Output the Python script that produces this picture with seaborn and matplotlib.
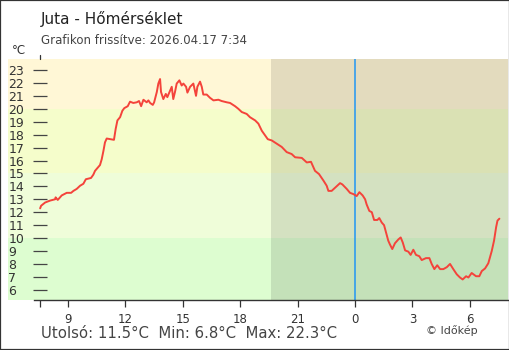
import matplotlib
matplotlib.use("Agg")
import matplotlib.pyplot as plt
from matplotlib.lines import Line2D
from matplotlib.patches import Rectangle
import seaborn as sns
import pandas as pd

# ---- data ----
hours = [7.54, 7.59, 7.80, 8.06, 8.32, 8.35, 8.46, 8.67, 8.93, 9.16, 9.28, 9.45, 9.63, 9.80, 9.93,
         10.20, 10.32, 10.41, 10.58, 10.67, 10.76, 10.85, 10.93, 11.02, 11.20, 11.40, 11.49, 11.58,
         11.72, 11.84, 11.94, 12.12, 12.24, 12.41, 12.59, 12.71, 12.82, 12.94, 13.11, 13.20, 13.29,
         13.43, 13.50, 13.64, 13.72, 13.81, 13.86, 13.98, 14.11, 14.19, 14.33, 14.42, 14.50, 14.59,
         14.68, 14.82, 14.94, 15.03, 15.17, 15.24, 15.38, 15.55, 15.69, 15.76, 15.90, 15.99, 16.07,
         16.25, 16.42, 16.60, 16.86, 17.03, 17.30, 17.47, 17.73, 17.90, 18.08, 18.34, 18.51, 18.78,
         18.95, 19.13, 19.30, 19.44, 19.65, 19.91, 20.17, 20.43, 20.69, 20.87, 21.22, 21.48, 21.70,
         21.91, 22.12, 22.35, 22.52, 22.61, 22.78, 22.96, 23.22, 23.34, 23.57, 23.74, 23.92, 24.09,
         24.23, 24.40, 24.53, 24.61, 24.75, 24.88, 25.00, 25.17, 25.27, 25.40, 25.52, 25.62, 25.74,
         25.83, 25.95, 26.09, 26.27, 26.39, 26.50, 26.62, 26.79, 26.91, 27.05, 27.19, 27.36, 27.49,
         27.71, 27.89, 28.01, 28.15, 28.30, 28.45, 28.62, 28.80, 28.97, 29.14, 29.32, 29.49, 29.63,
         29.81, 29.93, 30.10, 30.33, 30.50, 30.63, 30.80, 30.97, 31.15, 31.27, 31.38, 31.45, 31.55]
temps = [12.3, 12.5, 12.75, 12.9, 13.0, 13.15, 12.95, 13.3, 13.5, 13.5, 13.65, 13.8, 14.05, 14.2, 14.55,
         14.65, 14.9, 15.2, 15.5, 15.65, 16.1, 16.75, 17.4, 17.7, 17.65, 17.6, 18.45, 19.1,
         19.35, 19.85, 20.05, 20.2, 20.55, 20.45, 20.5, 20.6, 20.2, 20.7, 20.5, 20.65, 20.45,
         20.3, 20.5, 21.3, 21.95, 22.3, 21.3, 20.75, 21.15, 20.9, 21.4, 21.7, 20.75, 21.3,
         21.95, 22.2, 21.8, 21.95, 21.7, 21.25, 21.7, 21.95, 21.0, 21.7, 22.1, 21.7, 21.1,
         21.1, 20.85, 20.65, 20.7, 20.6, 20.5, 20.45, 20.2, 20.0, 19.75, 19.6, 19.35, 19.1,
         18.85, 18.3, 17.95, 17.65, 17.55, 17.3, 17.05, 16.65, 16.5, 16.25, 16.2, 15.85, 15.9,
         15.2, 14.95, 14.45, 14.05, 13.65, 13.65, 13.9, 14.25, 14.15, 13.8, 13.5, 13.4, 13.25,
         13.55, 13.3, 13.0, 12.6, 12.1, 12.0, 11.4, 11.4, 11.55, 11.2, 11.0, 10.45, 9.8,
         9.5, 9.15, 9.6, 9.9, 10.05, 9.65, 9.05, 8.95, 8.7, 9.1, 8.7, 8.6, 8.3,
         8.45, 8.45, 8.0, 7.6, 7.9, 7.6, 7.6, 7.75, 8.0, 7.6, 7.2, 6.95, 6.8,
         7.05, 6.95, 7.3, 7.05, 7.05, 7.45, 7.65, 8.05, 9.0, 9.8, 10.85, 11.35, 11.5]

y_ticks = list(range(6, 24))
x_ticks = [7.54, 9, 12, 15, 18, 21, 24, 27, 30]
x_tick_labels = ["", "9", "12", "15", "18", "21", "0", "3", "6"]
band_edges = [5.25, 10, 15, 20, 23.85]
band_colors = ["#DDFDD0", "#EFFDD9", "#F5FDCB", "#FFF7D6"]
sunset = 19.61
midnight = 24
title = "Juta - Hőmérséklet"
subtitle = "Grafikon frissítve: 2026.04.17 7:34"
footer = "Utolsó: 11.5°C  Min: 6.8°C  Max: 22.3°C"
credit = "© Időkép"

# ---- style ----
sns.set_style("white")
plt.rcParams["font.family"] = ["DejaVu Sans"]

W, H = 510, 350
fig = plt.figure(figsize=(W / 100, H / 100), dpi=100)
fig.patch.set_facecolor("white")
ax = fig.add_axes([8 / W, 1 - 299.5 / H, 500 / W, 240.5 / H])
ax.set_facecolor("white")

for lo, hi, c in zip(band_edges[:-1], band_edges[1:], band_colors):
    ax.axhspan(lo, hi, color=c, lw=0, zorder=0)
ax.axvspan(sunset, 32.0, color="black", alpha=0.11, lw=0, zorder=0.5)
ax.axvline(midnight, color="#2196F3", lw=1.1, zorder=2)

df = pd.DataFrame({"hour": hours, "temp": temps})
sns.lineplot(data=df, x="hour", y="temp", ax=ax, color="#F4433B", lw=1.4, zorder=3)

ax.set_xlim(5.86, 32.0)
ax.set_ylim(band_edges[0], band_edges[-1])
ax.set_xlabel("")
ax.set_ylabel("")

for s in ["top", "right", "left"]:
    ax.spines[s].set_visible(False)
ax.spines["left"].set_position(("data", 7.54))
ax.spines["bottom"].set_bounds(7.22, 32.0)
ax.spines["bottom"].set_color("#333333")
ax.spines["bottom"].set_linewidth(1.0)

ax.set_yticks(y_ticks)
ax.set_yticklabels([str(v) for v in y_ticks])
ax.tick_params(axis="y", direction="inout", length=9.4, width=0.9, color="#444444",
               pad=18.3, labelsize=9, labelcolor="#333333", left=True)
for lbl in ax.get_yticklabels():
    lbl.set_horizontalalignment("left")

ax.set_xticks(x_ticks)
ax.set_xticklabels(x_tick_labels)
ax.tick_params(axis="x", direction="out", length=5, width=0.9, color="#333333",
               pad=4.5, labelsize=8.5, labelcolor="#333333", bottom=True)

fig.text(41 / W, 1 - 19 / H, title, fontsize=11, va="center", ha="left", color="#222222")
fig.text(41 / W, 1 - 41 / H, subtitle, fontsize=8.5, va="center", ha="left", color="#444444")
fig.text(12 / W, 1 - 50 / H, "°C", fontsize=8.5, va="center", ha="left", color="#333333")
fig.text(41 / W, 1 - 333 / H, footer, fontsize=10.7, va="center", ha="left", color="#444444")
fig.text(426 / W, 1 - 331 / H, credit, fontsize=8, va="center", ha="left", color="#444444")

fig.add_artist(Line2D([40 / W, 40 / W], [1 - 55 / H, 1 - 59 / H], color="#333333", lw=0.9))
fig.add_artist(Rectangle((0, 0), 1, 1, transform=fig.transFigure, fill=False,
                         edgecolor="#333333", lw=1.6))

fig.savefig("out.png", dpi=100)
